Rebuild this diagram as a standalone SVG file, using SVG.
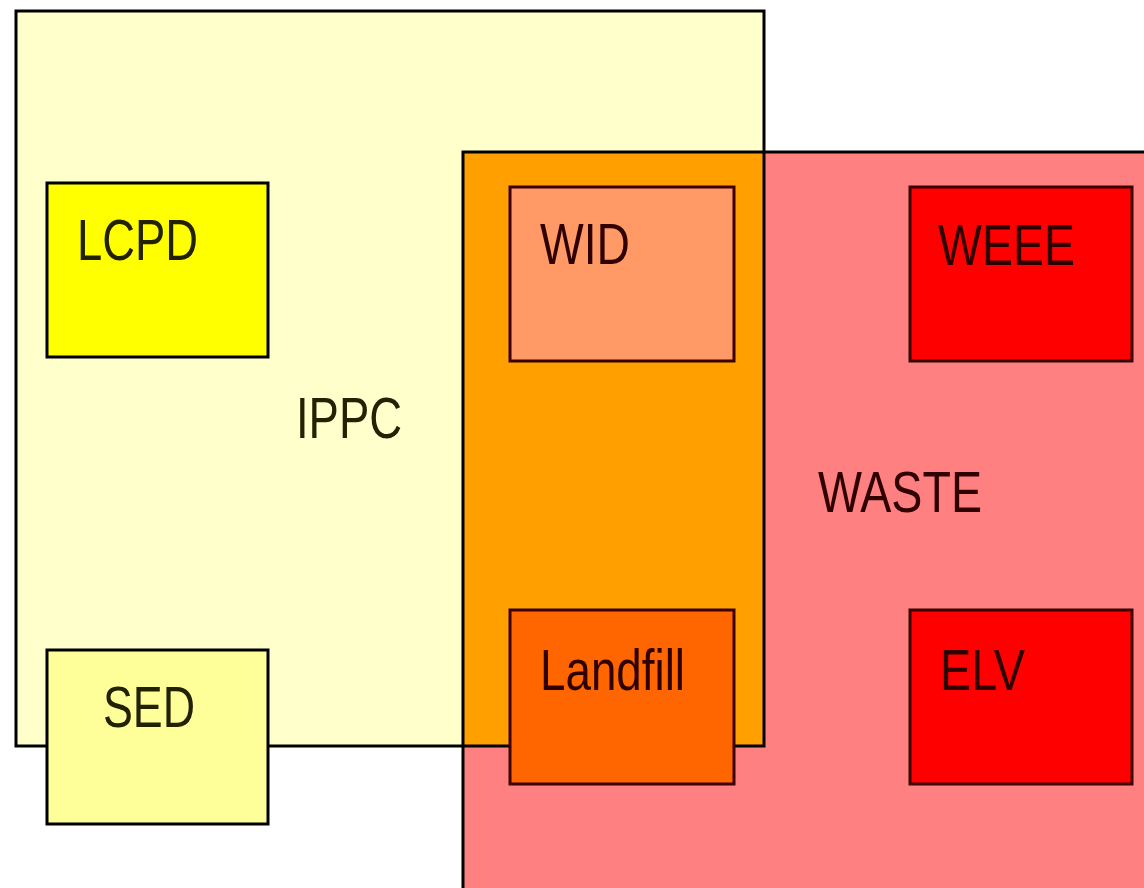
<svg xmlns="http://www.w3.org/2000/svg" width="1144" height="888" viewBox="0 0 1144 888">
<style>
text{font-family:"Liberation Sans",Arial,sans-serif;font-size:58px;}
.dk{fill:#222200;}
.rd{fill:#300000;}
.blk{stroke:#000;stroke-width:3;}
.mar{stroke:#3a0000;stroke-width:3;}
</style>
<rect x="0" y="0" width="1144" height="888" fill="#fff"/>
<g id="ippc">
<rect x="16" y="11" width="748" height="735" fill="#FFFFCC"/>
</g>
<g id="waste">
<rect x="463" y="152" width="690" height="745" fill="#FF8080"/>
<rect x="463" y="152" width="301" height="594" fill="#FFA000"/>
</g>
<g id="borders" fill="none">
<rect x="16" y="11" width="748" height="735" class="blk"/>
<rect x="463" y="152" width="690" height="745" class="blk"/>
</g>
<text x="296" y="438" class="dk" textLength="106" lengthAdjust="spacingAndGlyphs">IPPC</text>
<text x="818" y="512" class="rd" textLength="164" lengthAdjust="spacingAndGlyphs">WASTE</text>
<g id="lcpd">
<rect x="47" y="183" width="221" height="174" fill="#FFFF00" class="blk"/>
<text x="77" y="260" class="dk" textLength="121" lengthAdjust="spacingAndGlyphs">LCPD</text>
</g>
<g id="sed">
<rect x="47" y="650" width="221" height="174" fill="#FFFF99" class="blk"/>
<text x="103" y="727" class="dk" textLength="92" lengthAdjust="spacingAndGlyphs">SED</text>
</g>
<g id="wid">
<rect x="510" y="187" width="224" height="174" fill="#FF9966" class="mar"/>
<text x="540" y="264" class="rd" textLength="90" lengthAdjust="spacingAndGlyphs">WID</text>
</g>
<g id="landfill">
<rect x="510" y="610" width="224" height="174" fill="#FF6600" class="mar"/>
<text x="540" y="690" class="rd" textLength="145" lengthAdjust="spacingAndGlyphs">Landfill</text>
</g>
<g id="weee">
<rect x="910" y="187" width="222" height="174" fill="#FF0000" class="mar"/>
<text x="938" y="265" class="rd" textLength="137" lengthAdjust="spacingAndGlyphs">WEEE</text>
</g>
<g id="elv">
<rect x="910" y="610" width="222" height="174" fill="#FF0000" class="mar"/>
<text x="940" y="690" class="rd" textLength="85" lengthAdjust="spacingAndGlyphs">ELV</text>
</g>
<g id="connectors"/>
</svg>
